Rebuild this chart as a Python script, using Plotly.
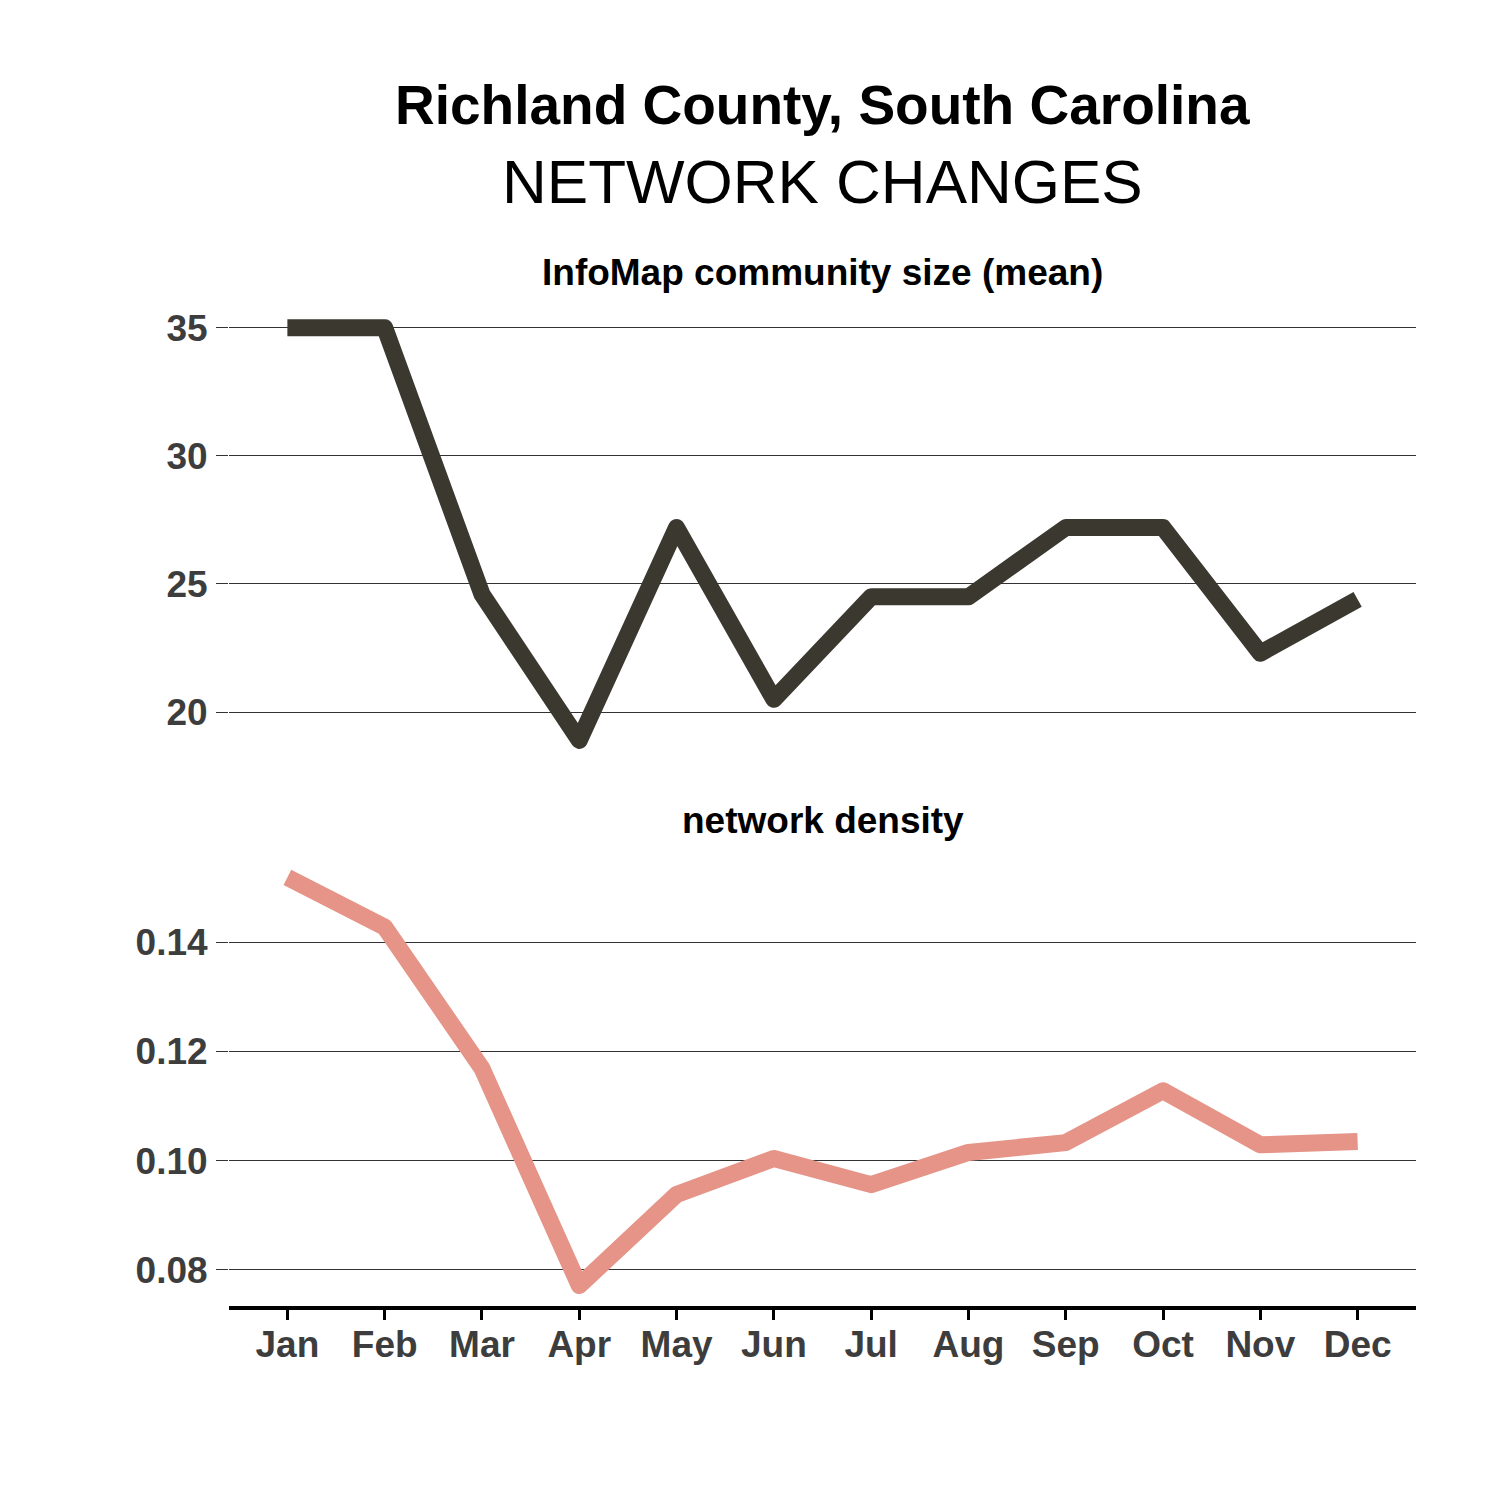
import plotly.graph_objects as go

months = ["Jan", "Feb", "Mar", "Apr", "May", "Jun", "Jul", "Aug", "Sep", "Oct", "Nov", "Dec"]
community_size = [35.0, 35.0, 24.6, 18.9, 27.2, 20.5, 24.5, 24.5, 27.2, 27.2, 22.3, 24.4]
density = [0.1519, 0.1428, 0.1169, 0.0771, 0.0938, 0.1004, 0.0956, 0.1015, 0.1033, 0.1128, 0.1029, 0.1035]

size_ticks = [20, 25, 30, 35]
density_ticks = [0.08, 0.10, 0.12, 0.14]
density_ticklabels = ["0.08", "0.10", "0.12", "0.14"]

W = H = 1500
FONT = "Liberation Sans, Arial, sans-serif"
TICK_COLOR = "#3d3d3d"

x_idx = list(range(len(months)))

fig = go.Figure()
fig.add_trace(go.Scatter(x=x_idx, y=community_size, mode="lines",
                         line=dict(color="#3b3830", width=17),
                         xaxis="x", yaxis="y", showlegend=False))
fig.add_trace(go.Scatter(x=x_idx, y=density, mode="lines",
                         line=dict(color="#e59487", width=17),
                         xaxis="x2", yaxis="y2", showlegend=False))

def py(p):
    return 1 - p / H

xdom = [229 / W, 1416 / W]
xrange = [-0.6, 11.6]

def pad(vals):
    lo, hi = min(vals), max(vals)
    e = (hi - lo) * 0.05
    return [lo - e, hi + e]

common_y = dict(showgrid=True, gridcolor="#333333", gridwidth=1, zeroline=False,
                ticks="outside", ticklen=12, tickcolor="#333333", tickwidth=1,
                showline=False, ticklabelstandoff=1,
                tickfont=dict(family=FONT, size=37, color=TICK_COLOR, weight="bold"))

fig.update_layout(
    width=W, height=H,
    paper_bgcolor="white", plot_bgcolor="white",
    margin=dict(l=0, r=0, t=0, b=0),
    xaxis=dict(domain=xdom, range=xrange, anchor="y", showticklabels=False,
               showgrid=False, zeroline=False, ticks="", showline=False),
    yaxis=dict(domain=[py(761), py(307)], range=pad(community_size), anchor="x",
               tickvals=size_ticks, **common_y),
    xaxis2=dict(domain=xdom, range=xrange, anchor="y2", showgrid=False, zeroline=False,
                tickvals=x_idx, ticktext=months, ticks="outside", ticklen=10,
                tickwidth=3, tickcolor="black", showline=True, linecolor="black",
                linewidth=4, ticklabelstandoff=-7,
                tickfont=dict(family=FONT, size=37, color=TICK_COLOR, weight="bold")),
    yaxis2=dict(domain=[py(1306), py(857)], range=pad(density), anchor="x2",
                tickvals=density_ticks, ticktext=density_ticklabels, **common_y),
    annotations=[
        dict(text="<b>Richland County, South Carolina</b>", x=(xdom[0] + xdom[1]) / 2,
             y=py(105), xref="paper", yref="paper", showarrow=False,
             xanchor="center", yanchor="middle",
             font=dict(family=FONT, size=55, color="black")),
        dict(text="NETWORK CHANGES", x=(xdom[0] + xdom[1]) / 2,
             y=py(182), xref="paper", yref="paper", showarrow=False,
             xanchor="center", yanchor="middle",
             font=dict(family=FONT, size=62, color="black")),
        dict(text="<b>InfoMap community size (mean)</b>", x=(xdom[0] + xdom[1]) / 2,
             y=py(273), xref="paper", yref="paper", showarrow=False,
             xanchor="center", yanchor="middle",
             font=dict(family=FONT, size=37, color="black")),
        dict(text="<b>network density</b>", x=(xdom[0] + xdom[1]) / 2,
             y=py(820), xref="paper", yref="paper", showarrow=False,
             xanchor="center", yanchor="middle",
             font=dict(family=FONT, size=37, color="black")),
    ],
)

post = (
    "document.body.style.margin='0';"
    "var s=document.createElement('style');"
    "s.textContent='.scatterlayer path.js-line{stroke-linejoin:round !important;}';"
    "document.head.appendChild(s);"
)
fig.write_html("out.html", post_script=post, config={"displayModeBar": False})
